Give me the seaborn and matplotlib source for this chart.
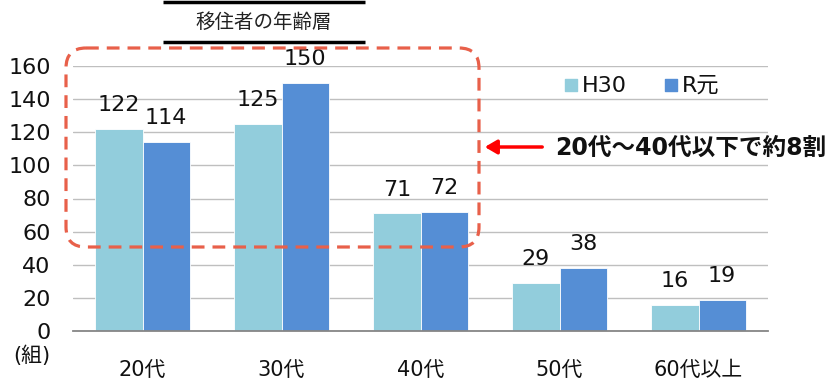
import matplotlib
matplotlib.use("Agg")
import matplotlib.pyplot as plt
from matplotlib.patches import FancyBboxPatch
import seaborn as sns
import pandas as pd

# Data: number of migrant households by age group
categories = ["20代", "30代", "40代", "50代", "60代以上"]
series_names = ["H30", "R元"]
h30_values = [122, 125, 71, 29, 16]
r1_values = [114, 150, 72, 38, 19]
y_ticks = [0, 20, 40, 60, 80, 100, 120, 140, 160]
colors = ["#92CDDC", "#558ED5"]

df = pd.DataFrame({
    "年齢": categories * 2,
    "年度": [series_names[0]] * len(categories) + [series_names[1]] * len(categories),
    "組数": h30_values + r1_values,
})

sns.set_theme(style="white")
plt.rcParams["font.family"] = ["DejaVu Sans", "Noto Sans CJK JP"]

W, H = 825, 383
fig = plt.figure(figsize=(W / 100, H / 100), dpi=100)
ax = fig.add_axes([73 / W, 1 - 331 / H, (768 - 73) / W, (331 - 66) / H])

sns.barplot(data=df, x="年齢", y="組数", hue="年度", order=categories,
            hue_order=series_names, palette=colors, width=0.68, gap=0,
            saturation=1, ax=ax, legend=False, edgecolor="white", linewidth=0.6)

for cont in ax.containers:
    ax.bar_label(cont, fmt="%d", padding=10, fontsize=16, color="#111111")

ax.set_ylim(0, 160)
ax.set_xlim(-0.5, len(categories) - 0.5)
ax.set_yticks(y_ticks)
ax.tick_params(axis="y", length=0, labelsize=16, pad=16, labelcolor="#111111")
ax.yaxis.grid(True, color="#BFBFBF", linewidth=1)
ax.set_axisbelow(True)
ax.set_xlabel("")
ax.set_ylabel("")
for side in ["top", "right", "left"]:
    ax.spines[side].set_visible(False)
ax.spines["bottom"].set_color("#868686")
ax.spines["bottom"].set_linewidth(1.3)

ax.set_xticks(range(len(categories)))
ax.set_xticklabels(categories)
ax.tick_params(axis="x", which="major", length=0, labelsize=15, pad=21, labelcolor="#111111")
ax.set_xticks([i - 0.5 for i in range(len(categories) + 1)], minor=True)
ax.tick_params(axis="x", which="minor", length=7, width=1.2, color="#868686", direction="out")

# Overlay in pixel coordinates for annotations
ov = fig.add_axes([0, 0, 1, 1])
ov.set_xlim(0, W)
ov.set_ylim(H, 0)
ov.axis("off")
ov.patch.set_alpha(0)

# Title with rules above and below
ov.plot([163, 365], [2, 2], color="black", lw=2.5, solid_capstyle="butt")
ov.plot([163, 365], [42, 42], color="black", lw=2.5, solid_capstyle="butt")
ov.text(264, 22, "移住者の年齢層", ha="center", va="center", fontsize=14,
        color="#222222", family=["Noto Sans CJK JP"])

# Unit label
ov.text(32, 356, "(組)", ha="center", va="center", fontsize=15, color="#111111")

# Highlight box around 20s–40s
box = FancyBboxPatch((66, 48), 413, 199, boxstyle="round,pad=0,rounding_size=20",
                     fill=False, edgecolor="#E8604A", linewidth=2.3,
                     linestyle=(0, (4, 2.5)))
ov.add_patch(box)

# Arrow and comment
ov.annotate("", xy=(482, 147), xytext=(545, 147),
            arrowprops=dict(arrowstyle="-|>,head_length=0.6,head_width=0.35",
                            color="#FF0000", lw=2.5))
ov.text(555, 148, "20代～40代以下で約8割", ha="left", va="center", fontsize=17,
        fontweight="bold", color="#111111")

# Legend
ov.scatter([571], [85], marker="s", s=75, color=colors[0])
ov.text(582, 86, series_names[0], ha="left", va="center", fontsize=16, color="#111111")
ov.scatter([671], [85], marker="s", s=75, color=colors[1])
ov.text(682, 86, series_names[1], ha="left", va="center", fontsize=16, color="#111111")

fig.savefig("out.png", dpi=100)
